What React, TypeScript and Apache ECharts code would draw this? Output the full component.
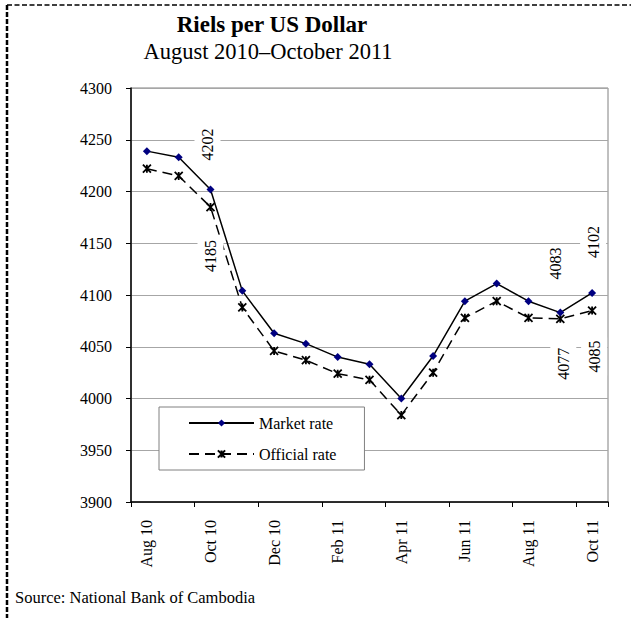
import { useEffect, useRef } from "react";
import * as echarts from "echarts";

// ---- Data ----
const months = [
  "Aug 10", "Sep 10", "Oct 10", "Nov 10", "Dec 10", "Jan 11", "Feb 11", "Mar 11",
  "Apr 11", "May 11", "Jun 11", "Jul 11", "Aug 11", "Sep 11", "Oct 11",
];
const marketRate = [4239, 4233, 4202, 4104, 4063, 4053, 4040, 4033, 4000, 4041, 4094, 4111, 4094, 4083, 4102];
const officialRate = [4222, 4215, 4185, 4088, 4046, 4037, 4024, 4018, 3984, 4025, 4078, 4094, 4078, 4077, 4085];
const yMin = 3900;
const yMax = 4300;
const yStep = 50;
const marketLabelMonths = ["Oct 10", "Sep 11", "Oct 11"];
const officialLabelMonths = ["Oct 10", "Sep 11", "Oct 11"];
const titleText = "Riels per US Dollar";
const subtitleText = "August 2010\u2013October 2011";
const sourceText = "Source: National Bank of Cambodia";
const seriesNames = ["Market rate", "Official rate"];

// ---- Layout (pixel offsets of the value labels from their points) ----
const marketLabelOffsets = [[-3, -45], [-5, -49], [1, -51]];
const officialLabelOffsets = [[0, 49], [3, 45], [2, 46]];

const FONT = '"Liberation Serif", "Times New Roman", serif';

function labelSeries(name: string, labelMonths: string[], values: number[], offsets: number[][]) {
  return {
    type: "custom",
    name,
    coordinateSystem: "cartesian2d",
    z: 5,
    silent: true,
    data: labelMonths.map((m) => {
      const i = months.indexOf(m);
      return [i, values[i]];
    }),
    renderItem: (params: any, api: any) => {
      const p = api.coord([api.value(0), api.value(1)]);
      const off = offsets[params.dataIndex];
      return {
        type: "text",
        x: p[0] + off[0],
        y: p[1] + off[1],
        rotation: Math.PI / 2,
        style: {
          text: String(api.value(1)),
          font: `16px ${FONT}`,
          fill: "#000",
          align: "center",
          verticalAlign: "middle",
          textAlign: "center",
          textVerticalAlign: "middle",
          backgroundColor: "#fff",
          padding: [5, 3, 5, 3],
        },
      };
    },
  };
}

export default function App() {
  const ref = useRef<HTMLDivElement>(null);
  useEffect(() => {
    const chart = echarts.init(ref.current!, null, { renderer: "svg" });
    const option: any = {
      animation: false,
      backgroundColor: "#fff",
      textStyle: { fontFamily: FONT },
      graphic: [
        {
          type: "line",
          shape: { x1: 7, y1: 5, x2: 631, y2: 5 },
          style: { stroke: "#000", lineWidth: 1.5, lineDash: [5, 2.5] },
        },
        {
          type: "line",
          shape: { x1: 7, y1: 5, x2: 7, y2: 618 },
          style: { stroke: "#000", lineWidth: 2.5, lineDash: [5, 2] },
        },
        {
          type: "text",
          x: 272,
          y: 24,
          style: {
            text: titleText,
            font: `bold 23px ${FONT}`,
            fill: "#000",
            align: "center",
            verticalAlign: "middle",
            textAlign: "center",
            textVerticalAlign: "middle",
          },
        },
        {
          type: "text",
          x: 268,
          y: 51,
          style: {
            text: subtitleText,
            font: `22.5px ${FONT}`,
            fill: "#000",
            align: "center",
            verticalAlign: "middle",
            textAlign: "center",
            textVerticalAlign: "middle",
          },
        },
        {
          type: "text",
          x: 15,
          y: 597,
          style: {
            text: sourceText,
            font: `16.5px ${FONT}`,
            fill: "#000",
            align: "left",
            verticalAlign: "middle",
            textAlign: "left",
            textVerticalAlign: "middle",
          },
        },
      ],
      grid: {
        left: 131,
        right: 23,
        top: 88,
        bottom: 116,
        show: true,
        borderColor: "#808080",
        borderWidth: 1,
        backgroundColor: "transparent",
      },
      legend: {
        data: seriesNames,
        orient: "vertical",
        left: 159,
        top: 407,
        padding: [8, 28, 8, 29],
        itemGap: 15,
        itemWidth: 65,
        itemHeight: 9,
        selectedMode: false,
        backgroundColor: "#fff",
        borderColor: "#808080",
        borderWidth: 1,
        textStyle: { fontFamily: FONT, fontSize: 16, color: "#000", lineHeight: 16 },
      },
      xAxis: {
        type: "category",
        data: months,
        boundaryGap: true,
        axisLine: { show: true, lineStyle: { color: "#000", width: 1.5 } },
        axisTick: { show: true, interval: 1, length: 5, lineStyle: { color: "#000", width: 1 } },
        axisLabel: {
          interval: 1,
          rotate: 90,
          margin: 18,
          fontFamily: FONT,
          fontSize: 16,
          color: "#000",
        },
        splitLine: { show: false },
      },
      yAxis: {
        type: "value",
        min: yMin,
        max: yMax,
        interval: yStep,
        axisLine: { show: true, lineStyle: { color: "#000", width: 1.5 } },
        axisTick: { show: true, length: 5, lineStyle: { color: "#000", width: 1 } },
        axisLabel: {
          margin: 19,
          fontFamily: FONT,
          fontSize: 16,
          color: "#000",
          formatter: (v: number) => String(v),
        },
        splitLine: { show: true, lineStyle: { color: "#a6a6a6", width: 1 } },
      },
      series: [
        {
          type: "line",
          name: seriesNames[1],
          data: officialRate,
          symbol: "path://M0,0L8,8M8,0L0,8M4,0L4,8",
          symbolSize: 8,
          z: 3,
          lineStyle: { color: "#000", width: 1.5, type: [10, 6] },
          itemStyle: { color: "#000", borderColor: "#000", borderWidth: 1.8 },
        },
        {
          type: "line",
          name: seriesNames[0],
          data: marketRate,
          symbol: "diamond",
          symbolSize: 8,
          z: 4,
          lineStyle: { color: "#000", width: 1.5, type: "solid" },
          itemStyle: { color: "#000080", borderWidth: 0 },
        },
        labelSeries("marketLabels", marketLabelMonths, marketRate, marketLabelOffsets),
        labelSeries("officialLabels", officialLabelMonths, officialRate, officialLabelOffsets),
      ],
    };
    chart.setOption(option);
    return () => chart.dispose();
  }, []);
  return (
    <div
      ref={ref}
      style={{ position: "fixed", left: 0, top: 0, width: 631, height: 618, background: "#fff" }}
    />
  );
}
